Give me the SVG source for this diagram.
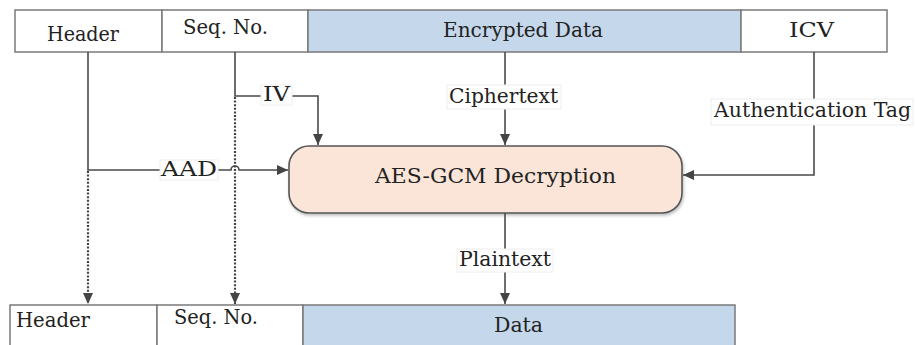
<svg xmlns="http://www.w3.org/2000/svg" width="916" height="345" viewBox="0 0 916 345">
<defs>
<marker id="arr" markerWidth="12" markerHeight="12" refX="11" refY="5" orient="auto" markerUnits="userSpaceOnUse">
<path d="M0 0 L11 5 L0 10 z" fill="#444"/>
</marker>
<filter id="sh" x="-10%" y="-10%" width="120%" height="130%">
<feDropShadow dx="1" dy="2" stdDeviation="1.5" flood-color="#000" flood-opacity="0.25"/>
</filter>
</defs>
<style>
text{font-family:"DejaVu Serif",serif;font-size:20px;fill:#222}
.cell{stroke:#7a7a7a;stroke-width:1.5}
.w{fill:#fff}
.b{fill:#c5d7ea}
.ln{fill:none;stroke:#4a4a4a;stroke-width:1.6}
.dot{fill:none;stroke:#444;stroke-width:2.2;stroke-dasharray:2 1.6}
.lbl{fill:#fff;stroke:#eee;stroke-width:1}
</style>
<rect width="916" height="345" fill="#fff"/>
<g id="top-header"><rect class="cell w" x="15" y="10" width="147" height="42"/><text x="47" y="41" textLength="72" lengthAdjust="spacingAndGlyphs">Header</text></g>
<g id="top-seq"><rect class="cell w" x="162" y="10" width="146" height="42"/><text x="183" y="34" textLength="85" lengthAdjust="spacingAndGlyphs">Seq. No.</text></g>
<g id="top-enc"><rect class="cell b" x="308" y="10" width="433" height="42"/><text x="443" y="37" textLength="160" lengthAdjust="spacingAndGlyphs">Encrypted Data</text></g>
<g id="top-icv"><rect class="cell w" x="741" y="10" width="146" height="42"/><text x="789" y="37" textLength="45" lengthAdjust="spacingAndGlyphs">ICV</text></g>

<g id="aes"><rect x="289" y="146" width="393" height="67" rx="20" fill="#fbe5d8" stroke="#555" stroke-width="1.6" filter="url(#sh)"/><text x="375" y="183" textLength="241" lengthAdjust="spacingAndGlyphs">AES-GCM Decryption</text></g>

<g id="bot-header"><rect class="cell w" x="10" y="305" width="147" height="50"/><text x="16" y="327" textLength="74" lengthAdjust="spacingAndGlyphs">Header</text></g>
<g id="bot-seq"><rect class="cell w" x="157" y="305" width="146" height="50"/><text x="174" y="324" textLength="84" lengthAdjust="spacingAndGlyphs">Seq. No.</text></g>
<g id="bot-data"><rect class="cell b" x="303" y="305" width="432" height="50"/><text x="494" y="332" textLength="49" lengthAdjust="spacingAndGlyphs">Data</text></g>

<g id="connectors">
<path class="ln" d="M88 52 V170 H160"/>
<path class="ln" d="M218 170 H231 A4 4 0 0 1 239 170 H288" marker-end="url(#arr)"/>
<path class="dot" d="M88 171 V304" marker-end="url(#arr)"/>
<path class="ln" d="M235 52 V96 H262"/>
<path class="ln" d="M291 96 H318 V145" marker-end="url(#arr)"/>
<path class="dot" d="M235 97 V304" marker-end="url(#arr)"/>
<path class="ln" d="M505 52 V86"/>
<path class="ln" d="M505 108 V145" marker-end="url(#arr)"/>
<path class="ln" d="M814 52 V99"/>
<path class="ln" d="M814 125 V175 H683" marker-end="url(#arr)"/>
<path class="ln" d="M505 213 V249"/>
<path class="ln" d="M505 271 V304" marker-end="url(#arr)"/>
<g id="labels">
<rect class="lbl" x="261" y="85" width="31" height="20"/><text x="263" y="101" textLength="27" lengthAdjust="spacingAndGlyphs">IV</text>
<rect class="lbl" x="447" y="85" width="114" height="24"/><text x="449" y="103" textLength="109" lengthAdjust="spacingAndGlyphs">Ciphertext</text>
<rect class="lbl" x="711" y="99" width="202" height="26"/><text x="714" y="117" textLength="197" lengthAdjust="spacingAndGlyphs">Authentication Tag</text>
<rect class="lbl" x="160" y="160" width="58" height="20"/><text x="161" y="176" textLength="56" lengthAdjust="spacingAndGlyphs">AAD</text>
<rect class="lbl" x="457" y="249" width="96" height="23"/><text x="459" y="266" textLength="92" lengthAdjust="spacingAndGlyphs">Plaintext</text>
</g>
</g>
</svg>
